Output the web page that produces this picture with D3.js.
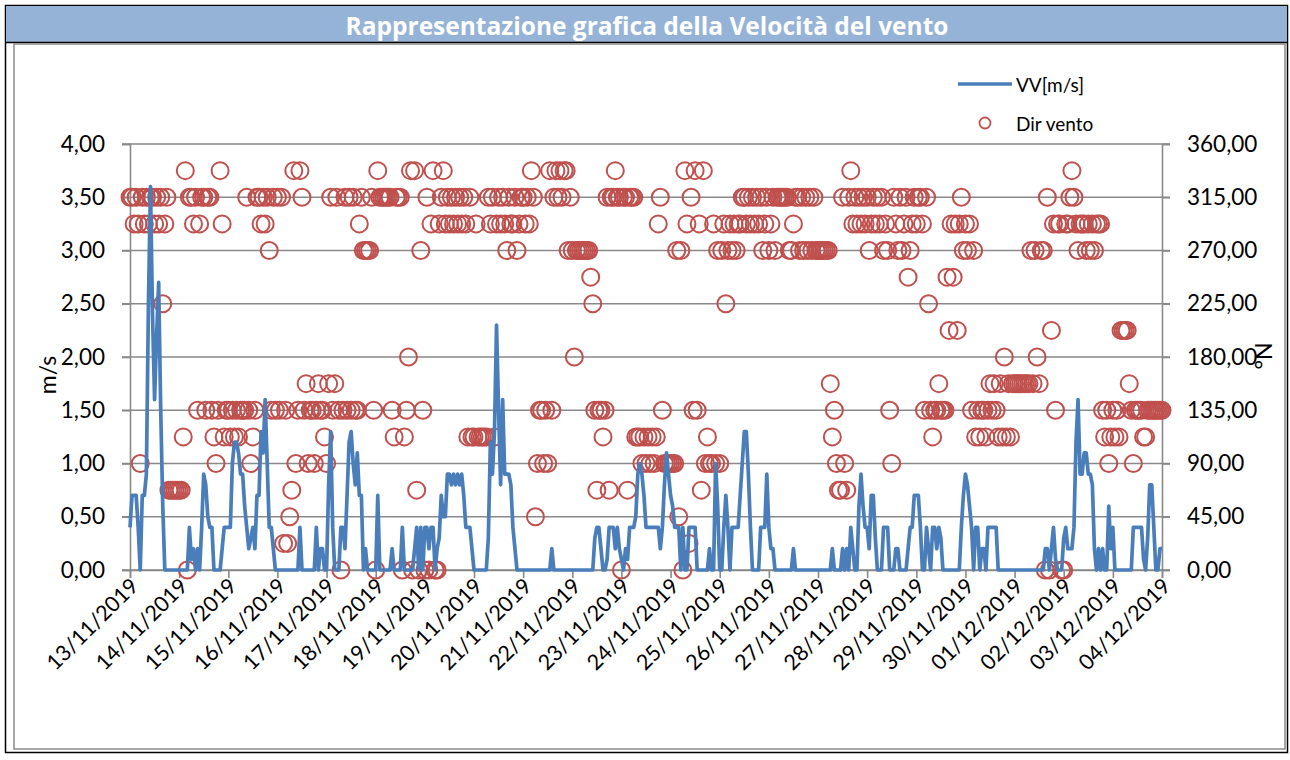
<!DOCTYPE html>
<html><head><meta charset="utf-8">
<script src="https://cdn.jsdelivr.net/npm/d3@7"></script>
<style>
html,body{margin:0;padding:0;background:#fff;}
svg{display:block;font-family:Lato,"Open Sans",sans-serif;}
</style></head>
<body>
<svg id="chart" width="1290" height="760"></svg>
<script>
// ---------------- DATA ----------------
const title = "Rappresentazione grafica della Velocità del vento";
const startDate = new Date(2019, 10, 13, 0, 0);   // 13/11/2019 00:00, hourly readings
const endDate = new Date(2019, 11, 4, 0, 0);      // 04/12/2019
const leftTicks = [0, 0.5, 1, 1.5, 2, 2.5, 3, 3.5, 4];
const rightTicks = [0, 45, 90, 135, 180, 225, 270, 315, 360];
const seriesNames = ["VV[m/s]", "Dir vento"];
const axisTitles = ["m/s", "°N"];

// wind speed [m/s], one value per hour, one row per day
const speed = [
  0.4,0.7,0.7,0.7,0.4,0,0.7,0.7,0.9,2.5,3.6,2.4,1.6,2.2,2.7,1.5,0.6,0,0,0,0,0,0,0,          // 13/11
  0,0,0,0,0,0.4,0.1,0.2,0,0.2,0,0.4,0.9,0.8,0.5,0.4,0.4,0,0,0,0,0.2,0.4,0.4,              // 14/11
  0.4,0.4,1.0,1.2,1.2,1.1,0.9,0.9,0.6,0.4,0.2,0.3,0.4,0.2,0.7,0.7,1.3,1.1,1.6,1.0,0.4,0.4,0.2,0, // 15/11
  0,0,0,0,0,0,0,0,0,0,0,0.4,0,0,0,0,0,0,0,0.4,0,0.2,0.2,0,                                // 16/11
  0,0.8,1.3,0.4,0,0,0,0.4,0.4,0.2,0.7,1.2,1.3,1.0,0.8,1.1,0.7,0.7,0,0.2,0,0,0,0,           // 17/11
  0,0.7,0,0,0,0,0,0,0.2,0,0,0,0,0.4,0,0,0,0,0,0.2,0.4,0,0.4,0,                             // 18/11
  0.4,0.4,0.2,0.4,0.4,0,0.2,0.3,0.7,0.5,0.5,0.9,0.9,0.8,0.9,0.8,0.9,0.8,0.9,0.7,0.4,0.4,0.4,0.2, // 19/11
  0,0,0,0,0,0,0,0.3,1.2,0.9,1.3,2.3,1.5,0.8,1.6,0.9,0.9,0.9,0.8,0.4,0.2,0,0,0,             // 20/11
  0,0,0,0,0,0,0,0,0,0,0,0,0,0,0.2,0,0,0,0,0,0,0,0,0,                                       // 21/11
  0,0,0,0,0,0,0,0,0,0,0,0.3,0.4,0.4,0.2,0,0,0.1,0.4,0.4,0.4,0.2,0.4,0.2,                   // 22/11
  0.1,0,0.2,0.1,0.4,0.4,0.4,0.5,0.9,1.0,0.9,0.7,0.4,0.4,0.4,0.4,0.4,0.4,0.4,0.2,0.4,0.8,1.1,0.9, // 23/11
  0.7,0.6,0.4,0.4,0.4,0,0.4,0,0,0.4,0.4,0.4,0.4,0,0,0,0,0,0,0.2,0,0,1.0,0.6,               // 24/11
  0,0,0.4,0.7,0.4,0,0.4,0.4,0.4,0.4,0.7,1.0,1.3,1.3,0.9,0.4,0,0,0,0,0.4,0.4,0.4,0.9,       // 25/11
  0.4,0.2,0.2,0,0,0,0,0,0,0,0,0,0.2,0,0,0,0,0,0,0,0,0,0,0,                                 // 26/11
  0,0,0,0,0,0,0,0.2,0,0,0,0,0.2,0,0.2,0,0.4,0.2,0,0,0.6,0.9,0.6,0.4,                       // 27/11
  0.4,0.2,0.7,0.7,0.3,0,0,0,0.4,0.4,0.4,0,0,0,0.2,0.2,0,0,0,0,0.2,0.4,0.4,0.7,             // 28/11
  0.7,0.7,0.4,0,0,0.4,0.2,0,0.4,0.4,0.2,0.4,0.3,0,0,0,0,0,0,0,0,0,0.4,0.7,                 // 29/11
  0.9,0.8,0.6,0.4,0,0.4,0.4,0,0.2,0.2,0,0.4,0.4,0.4,0.4,0.4,0,0,0,0,0,0,0,0,               // 30/11
  0,0,0,0,0,0,0,0,0,0,0,0,0,0,0,0.2,0.2,0,0.2,0.4,0.1,0,0,0,                               // 01/12
  0.3,0.4,0.2,0.2,0.2,0.4,1.2,1.6,0.9,0.9,1.1,1.1,0.9,0.9,0.8,0.2,0,0.2,0,0.2,0,0,0.6,0.2, // 02/12
  0.4,0,0,0,0,0,0,0,0,0,0.4,0.4,0.4,0.4,0.4,0.1,0,0.3,0.8,0.8,0.4,0,0,0.2,                 // 03/12
  0.2                                                                                     // 04/12 00:00
];

// wind direction [°N], one value per hour, one row per day
const direction = [
  315,315,292.5,315,292.5,90,315,292.5,315,292.5,315,315,292.5,315,292.5,315,225,292.5,315,67.5,67.5,67.5,67.5,67.5,
  67.5,67.5,112.5,337.5,0,315,315,292.5,315,135,292.5,315,315,135,315,315,135,112.5,90,135,337.5,292.5,112.5,135,
  135,112.5,135,112.5,135,112.5,135,135,135,315,135,90,112.5,135,315,315,292.5,315,292.5,315,270,135,315,135,
  315,135,315,22.5,135,22.5,45,67.5,337.5,90,135,337.5,315,135,157.5,90,135,135,90,135,157.5,135,135,112.5,
  90,157.5,315,135,157.5,315,135,0,135,315,135,315,135,315,135,135,292.5,315,270,270,270,270,315,135,
  0,337.5,315,315,315,315,315,315,135,112.5,315,315,315,0,112.5,135,180,337.5,0,337.5,67.5,0,270,135,
  0,315,0,292.5,337.5,0,0,292.5,315,337.5,292.5,315,292.5,315,292.5,315,292.5,315,292.5,315,292.5,112.5,315,112.5,
  112.5,292.5,112.5,112.5,112.5,112.5,112.5,315,292.5,315,112.5,292.5,315,292.5,315,292.5,270,315,292.5,292.5,315,270,292.5,315,
  315,292.5,315,292.5,337.5,315,45,90,135,135,90,135,90,337.5,135,315,337.5,315,337.5,315,337.5,337.5,270,315,
  270,180,270,270,270,270,270,270,270,247.5,225,135,67.5,135,135,112.5,135,315,67.5,315,315,337.5,315,315,
  0,315,315,67.5,315,315,315,112.5,112.5,112.5,90,112.5,90,112.5,90,112.5,90,112.5,292.5,315,135,90,90,90,
  90,90,90,270,45,270,0,337.5,292.5,22.5,315,135,337.5,135,292.5,67.5,337.5,90,112.5,90,90,292.5,90,270,
  90,270,292.5,225,270,292.5,270,292.5,270,292.5,292.5,315,315,292.5,315,292.5,315,292.5,315,292.5,315,270,292.5,315,
  270,292.5,315,270,315,315,315,315,315,315,270,270,292.5,315,315,270,315,270,315,270,315,270,315,270,
  270,270,270,270,270,270,157.5,112.5,135,90,67.5,67.5,315,90,67.5,315,337.5,292.5,315,292.5,315,292.5,315,292.5,
  315,270,292.5,315,292.5,315,292.5,315,270,292.5,270,135,90,315,292.5,270,315,270,292.5,315,247.5,270,292.5,315,
  292.5,315,315,292.5,135,315,225,135,112.5,135,135,157.5,135,135,135,247.5,202.5,292.5,247.5,292.5,202.5,292.5,315,270,
  292.5,270,292.5,135,270,112.5,135,112.5,135,135,112.5,135,157.5,135,157.5,135,112.5,157.5,112.5,180,112.5,157.5,112.5,157.5,
  157.5,157.5,157.5,157.5,157.5,157.5,157.5,157.5,270,157.5,270,180,157.5,270,270,0,315,0,202.5,292.5,135,292.5,292.5,0,
  0,292.5,292.5,315,337.5,315,292.5,270,292.5,292.5,292.5,270,292.5,270,292.5,270,292.5,292.5,292.5,135,112.5,135,90,112.5,
  135,112.5,135,112.5,202.5,202.5,202.5,202.5,157.5,135,90,135,135,135,135,112.5,112.5,135,135,135,135,135,135,135,
  135
];

// ---------------- DRAW ----------------
const svg = d3.select("#chart");
const W = 1290, H = 760;
const plot = {left: 130, right: 1162, top: 144, bottom: 570};
const lineColor = "#4A7EBB", dotColor = "#C0504D", gridColor = "#898989";

const times = speed.map((_, i) => d3.timeHour.offset(startDate, i));
const x = d3.scaleTime().domain([startDate, endDate]).range([plot.left, plot.right]);
const yL = d3.scaleLinear().domain([0, 4]).range([plot.bottom, plot.top]);
const yR = d3.scaleLinear().domain([0, 360]).range([plot.bottom, plot.top]);
const fmt2 = d => d.toFixed(2).replace(".", ",");

// frame
svg.append("rect").attr("x", 0).attr("y", 0).attr("width", W).attr("height", H).attr("fill", "#fff");
svg.append("rect").attr("x", 5.5).attr("y", 5.5).attr("width", 1282).attr("height", 747)
  .attr("fill", "none").attr("stroke", "#000").attr("stroke-width", 1.5);
svg.append("rect").attr("x", 6).attr("y", 6).attr("width", 1281).attr("height", 36).attr("fill", "#95B3D7");
svg.append("line").attr("x1", 5).attr("x2", 1288).attr("y1", 42.5).attr("y2", 42.5).attr("stroke", "#000").attr("stroke-width", 1.5);
svg.append("rect").attr("x", 14).attr("y", 44).attr("width", 1271).attr("height", 705)
  .attr("fill", "none").attr("stroke", "#8a8a8a").attr("stroke-width", 1.5);
svg.append("text").attr("x", 647).attr("y", 25).attr("text-anchor", "middle").attr("dominant-baseline", "central")
  .attr("fill", "#fff").attr("font-family", "'Open Sans', sans-serif").attr("font-weight", "bold")
  .attr("font-size", 24.5).text(title);

// gridlines
svg.append("g").selectAll("line").data(leftTicks).join("line")
  .attr("x1", plot.left - 8).attr("x2", plot.right + 8)
  .attr("y1", d => yL(d)).attr("y2", d => yL(d))
  .attr("stroke", gridColor).attr("stroke-width", 1.6);

// left axis
const gL = svg.append("g").attr("transform", `translate(${plot.left},0)`)
  .call(d3.axisLeft(yL).tickValues(leftTicks).tickFormat(fmt2).tickSize(8).tickPadding(17));
// right axis
const gR = svg.append("g").attr("transform", `translate(${plot.right},0)`)
  .call(d3.axisRight(yR).tickValues(rightTicks).tickFormat(fmt2).tickSize(8).tickPadding(17));
// bottom axis
const dayTicks = d3.timeDay.range(startDate, d3.timeDay.offset(endDate, 1));
const gB = svg.append("g").attr("transform", `translate(0,${plot.bottom})`)
  .call(d3.axisBottom(x).tickValues(dayTicks).tickFormat(d3.timeFormat("%d/%m/%Y")).tickSize(8));
[gL, gR, gB].forEach(g => {
  g.select(".domain").attr("stroke", gridColor).attr("stroke-width", 1.6);
  g.selectAll(".tick line").attr("stroke", gridColor).attr("stroke-width", 1.6);
  g.selectAll("text").attr("font-family", "Lato, sans-serif").attr("font-size", 22.5).attr("fill", "#000");
});
gB.selectAll("text").attr("font-size", 21.5).attr("text-anchor", "end")
  .attr("transform", "translate(4,12) rotate(-45)").attr("dy", "0.35em").attr("y", 0).attr("x", 0);

// axis titles
svg.append("text").attr("transform", "translate(47,375) rotate(-90)").attr("text-anchor", "middle")
  .attr("dominant-baseline", "central").attr("font-size", 23).text(axisTitles[0]);
svg.append("text").attr("transform", "translate(1263,356) rotate(-90)").attr("text-anchor", "middle")
  .attr("dominant-baseline", "central").attr("font-size", 23).text(axisTitles[1]);

// direction circles
svg.append("g").selectAll("circle").data(direction).join("circle")
  .attr("cx", (d, i) => x(times[i])).attr("cy", d => yR(d)).attr("r", 8.5)
  .attr("fill", "none").attr("stroke", dotColor).attr("stroke-width", 2);

// speed line
const line = d3.line().x((d, i) => x(times[i])).y(d => yL(d));
svg.append("path").datum(speed).attr("d", line).attr("fill", "none")
  .attr("stroke", lineColor).attr("stroke-width", 3.7).attr("stroke-linejoin", "round");

// legend
const lg = svg.append("g");
lg.append("line").attr("x1", 958).attr("x2", 1012).attr("y1", 84).attr("y2", 84)
  .attr("stroke", lineColor).attr("stroke-width", 3.7);
lg.append("text").attr("x", 1016).attr("y", 84).attr("dominant-baseline", "central").attr("font-size", 19).text(seriesNames[0]);
lg.append("circle").attr("cx", 985).attr("cy", 123).attr("r", 5.5).attr("fill", "none")
  .attr("stroke", dotColor).attr("stroke-width", 1.8);
lg.append("text").attr("x", 1016).attr("y", 123).attr("dominant-baseline", "central").attr("font-size", 19).text(seriesNames[1]);
</script>
</body></html>
